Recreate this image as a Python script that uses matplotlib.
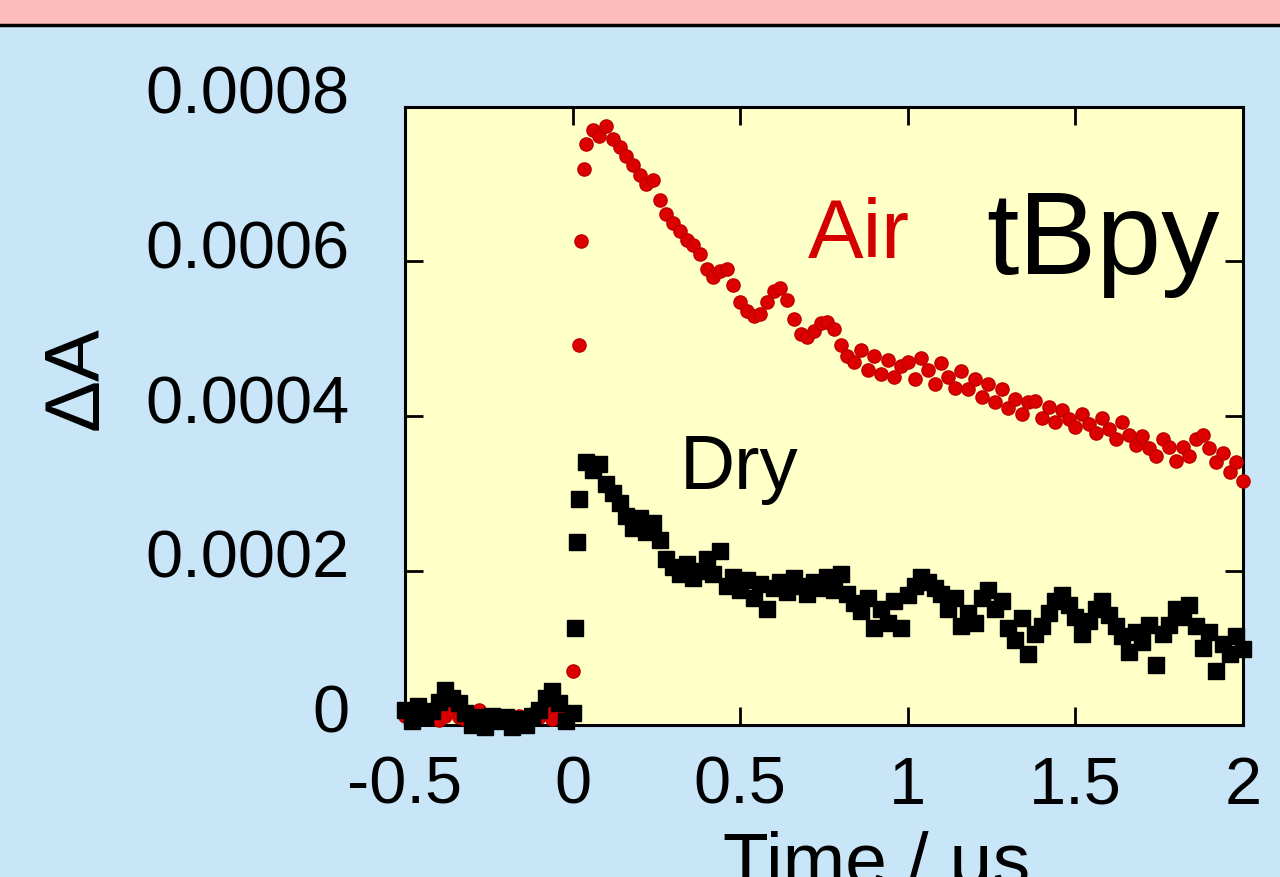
import numpy as np
import matplotlib.pyplot as plt
from matplotlib.patches import Rectangle
from matplotlib.lines import Line2D
from matplotlib.transforms import ScaledTranslation

plt.rcParams['font.family'] = ['Liberation Sans', 'DejaVu Sans']

# time grid (us)
t_pre = np.linspace(-0.5, 0.0, 26)
t_post = np.linspace(0.04, 2.0, 99)

# Air (red dots), dA in units of 1e-6
air_pre = [12, 8, 15, 10, 14, 6, 12, 18, 10, 8, 14, 20, 12, 6, 10,
           4, 8, 12, 6, 14, 10, 16, 8, 12, 10, 70]
air_rise_t = [0.018, 0.024, 0.033]
air_rise = [492, 626, 720]
air_post = [752, 770, 762, 775, 758, 748, 736, 725, 712, 700,
            705, 680, 662, 650, 640, 628, 622, 610, 590, 580,
            588, 590, 570, 548, 536, 530, 532, 548, 562, 566,
            550, 525, 506, 502, 510, 520, 522, 512, 492, 478,
            470, 485, 460, 478, 455, 472, 450, 465, 470, 448,
            475, 460, 442, 468, 450, 436, 458, 435, 448, 425,
            442, 418, 435, 410, 422, 402, 418, 420, 398, 412,
            392, 408, 396, 386, 402, 390, 378, 398, 383, 370,
            392, 376, 362, 374, 358, 348, 370, 360, 342, 360,
            348, 370, 375, 358, 340, 352, 328, 340, 316]

# Dry (black squares), dA in units of 1e-6
dry_pre = [20, 5, 25, 10, 18, 30, 45, 35, 28, 15, 0, 10, -2, 12, 5,
           10, -3, 8, 0, 12, 20, 35, 44, 28, 5, 15]
dry_rise_t = [0.006, 0.012, 0.018]
dry_rise = [125, 237, 293]
dry_post = [340, 330, 338, 312, 300, 288, 270, 255, 268, 250,
            262, 240, 215, 205, 195, 208, 190, 200, 215, 195,
            225, 180, 192, 175, 188, 165, 182, 150, 178, 185,
            172, 190, 180, 170, 185, 178, 192, 175, 195, 170,
            158, 148, 165, 125, 150, 132, 160, 125, 168, 180,
            192, 185, 178, 170, 150, 165, 128, 145, 132, 165,
            175, 150, 160, 125, 110, 138, 92, 118, 128, 145,
            160, 168, 155, 140, 118, 135, 150, 160, 142, 128,
            115, 95, 120, 108, 130, 78, 118, 130, 150, 140,
            155, 128, 100, 120, 70, 105, 92, 115, 98]

x_ticks = [-0.5, 0, 0.5, 1, 1.5, 2]
x_labels = ['-0.5', '0', '0.5', '1', '1.5', '2']
y_ticks = [0, 0.0002, 0.0004, 0.0006, 0.0008]
y_labels = ['0', '0.0002', '0.0004', '0.0006', '0.0008']

t_air = np.concatenate([t_pre, air_rise_t, t_post])
dA_air = np.concatenate([air_pre, air_rise, air_post]) * 1e-6
t_dry = np.concatenate([t_pre, dry_rise_t, t_post])
dA_dry = np.concatenate([dry_pre, dry_rise, dry_post]) * 1e-6

fig = plt.figure(figsize=(12.8, 8.77), dpi=100, facecolor='#c8e6f8')
fig.patches.append(Rectangle((0, 1 - 24 / 877), 1, 24 / 877, transform=fig.transFigure,
                             facecolor='#fcbcbc', edgecolor='none', zorder=0))
fig.add_artist(Line2D([0, 1], [1 - 25 / 877] * 2, transform=fig.transFigure,
                      color='black', lw=2.5))

ax = fig.add_axes([0.3164, 0.1733, 0.6547, 0.7047], facecolor='#ffffc8')

ax.plot(t_air, dA_air, 'o', ms=9.5, color='#dd0000', mec='#c00000',
        clip_on=False, zorder=3)
ax.plot(t_dry, dA_dry, 's', ms=12, color='black', clip_on=False, zorder=4)

ax.set_xlim(-0.5, 2)
ax.set_ylim(0, 0.0008)
ax.set_xticks(x_ticks)
ax.set_xticklabels(x_labels)
ax.set_yticks(y_ticks)
ax.set_yticklabels(y_labels)
ax.tick_params(direction='in', length=13, width=2, top=True, right=True,
               labelsize=48, colors='black')
ax.tick_params(axis='x', pad=22)
ax.tick_params(axis='y', pad=40)
for s in ax.spines.values():
    s.set_linewidth(2.2)

# y labels sit a bit above their ticks
shift = ScaledTranslation(0, 17 / 100, fig.dpi_scale_trans)
for lab in ax.get_yticklabels():
    lab.set_transform(lab.get_transform() + shift)

ax.text(0.703, 0.000605, 'Air', color='#d40000', fontsize=60,
        ha='left', va='baseline')
ax.text(1.234, 0.000584, 'tBpy', color='black', fontsize=84,
        ha='left', va='baseline')
ax.text(0.319, 0.000305, 'Dry', color='black', fontsize=55,
        ha='left', va='baseline')

fig.text(77 / 1280, 1 - 378 / 877, 'ΔA', rotation=90, ha='center', va='center',
         fontsize=56)
fig.text(877 / 1280, 1 - 885 / 877, 'Time / μs', ha='center', va='baseline',
         fontsize=54)

fig.savefig('out.png', dpi=100, facecolor=fig.get_facecolor())
